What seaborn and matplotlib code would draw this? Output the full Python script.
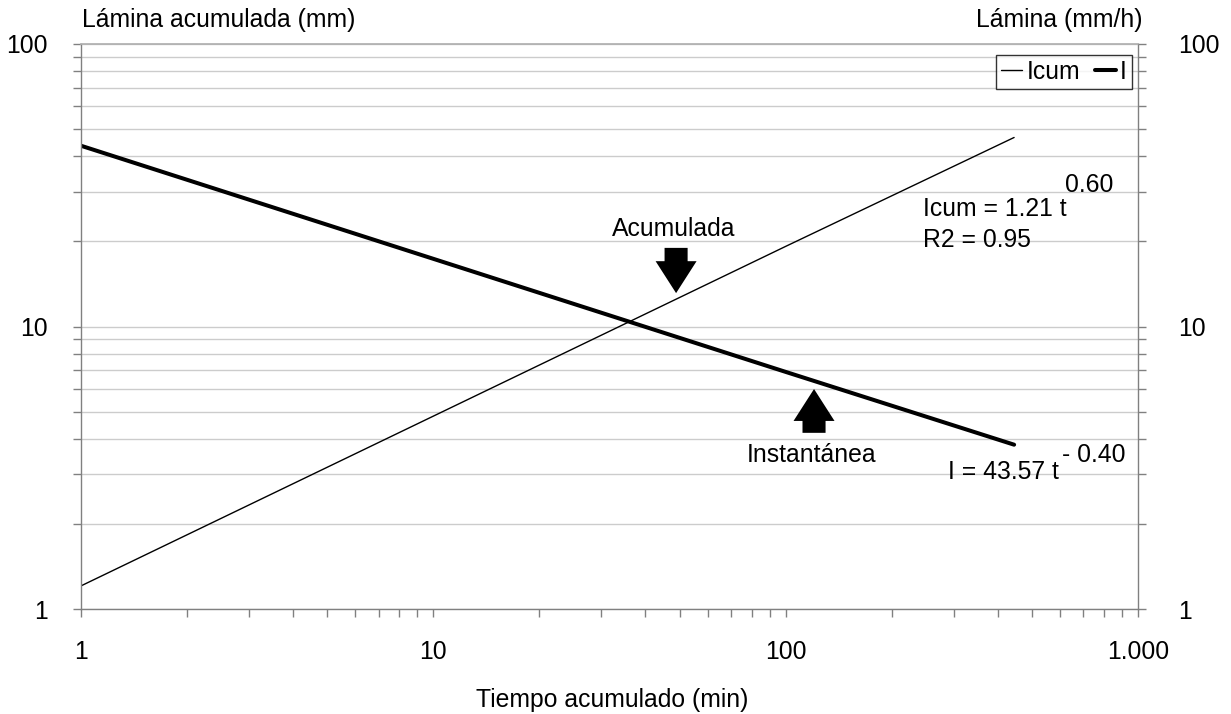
import matplotlib
matplotlib.use("Agg")
import matplotlib.pyplot as plt
from matplotlib import ticker
import seaborn as sns
import pandas as pd

# Data (log-log power fits)
t_min = [1, 10, 100, 445]
icum_mm = [1.21, 4.82, 19.2, 46.6]
i_mmh = [43.57, 17.35, 6.91, 3.82]

x_ticks = [1, 10, 100, 1000]
y_ticks = [1, 10, 100]

sns.set_theme(style="white")
plt.rcParams["font.family"] = ["Liberation Sans", "DejaVu Sans"]
plt.rcParams["font.size"] = 17.8
plt.rcParams["text.color"] = "black"
plt.rcParams["xtick.labelcolor"] = "black"
plt.rcParams["ytick.labelcolor"] = "black"

FS = 17.8
GRID = "#cccccc"
AXIS = "#808080"

df = pd.DataFrame({"t": t_min, "Icum": icum_mm, "I": i_mmh})

fig = plt.figure(figsize=(12.31, 7.14), dpi=100)
fig.subplots_adjust(left=81 / 1231, right=1138 / 1231,
                    bottom=1 - 609.3 / 714, top=1 - 43.7 / 714)
ax = fig.add_subplot(111)

sns.lineplot(data=df, x="t", y="Icum", ax=ax, color="black", lw=1.0, label="Icum")
sns.lineplot(data=df, x="t", y="I", ax=ax, color="black", lw=2.9, label="I")

ax.set_xscale("log")
ax.set_yscale("log")
ax.set_xlim(1, 1000)
ax.set_ylim(1, 100)
ax.set_xlabel("")
ax.set_ylabel("")

# Axis formatting
ax.xaxis.set_major_locator(ticker.FixedLocator(x_ticks))
ax.xaxis.set_major_formatter(
    ticker.FuncFormatter(lambda v, p: "{:,.0f}".format(v).replace(",", ".")))
ax.xaxis.set_minor_locator(ticker.LogLocator(base=10, subs=range(2, 10)))
ax.xaxis.set_minor_formatter(ticker.NullFormatter())
ax.yaxis.set_major_locator(ticker.FixedLocator(y_ticks))
ax.yaxis.set_major_formatter(ticker.FuncFormatter(lambda v, p: "%g" % v))
ax.yaxis.set_minor_locator(ticker.LogLocator(base=10, subs=range(2, 10)))
ax.yaxis.set_minor_formatter(ticker.NullFormatter())

ax.tick_params(axis="x", which="both", direction="out", length=5.8, width=1,
               color=AXIS, bottom=True, labelsize=FS, labelcolor="black", pad=16)
ax.tick_params(axis="y", which="both", direction="out", length=5.8, width=1,
               color=AXIS, left=True, labelsize=FS, labelcolor="black", pad=18)

ax.grid(False)
for y in y_ticks + [m * 10 ** k for k in range(2) for m in range(2, 10)]:
    ax.axhline(y, color=GRID, lw=1, zorder=0)

for side in ["left", "right", "bottom"]:
    ax.spines[side].set_color(AXIS)
    ax.spines[side].set_linewidth(1)
ax.spines["top"].set_color("#b0b0b0")

# Right axis
ax2 = ax.twinx()
ax2.set_yscale("log")
ax2.set_ylim(1, 100)
ax2.yaxis.set_major_locator(ticker.FixedLocator(y_ticks))
ax2.yaxis.set_major_formatter(ticker.FuncFormatter(lambda v, p: "%g" % v))
ax2.yaxis.set_minor_locator(ticker.LogLocator(base=10, subs=range(2, 10)))
ax2.yaxis.set_minor_formatter(ticker.NullFormatter())
ax2.tick_params(axis="y", which="both", direction="out", length=5.8, width=1,
                color=AXIS, right=True, labelsize=FS, labelcolor="black", pad=23)
for s in ax2.spines.values():
    s.set_visible(False)

# Legend
leg = ax.legend(loc="upper right", bbox_to_anchor=(0.9943, 0.980), ncol=2,
                borderaxespad=0, fontsize=FS, handlelength=0.85,
                handletextpad=0.17, columnspacing=0.6, borderpad=0.2,
                fancybox=False, frameon=True)
leg.get_frame().set_edgecolor("black")
leg.get_frame().set_linewidth(1)

# Equations
ax.text(0.797, 0.708, "Icum = 1.21 t", transform=ax.transAxes, fontsize=FS,
        ha="left", va="center")
ax.text(0.931, 0.750, "0.60", transform=ax.transAxes, fontsize=FS,
        ha="left", va="center")
ax.text(0.797, 0.653, "R2 = 0.95", transform=ax.transAxes, fontsize=FS,
        ha="left", va="center")
ax.text(0.820, 0.243, "I = 43.57 t", transform=ax.transAxes, fontsize=FS,
        ha="left", va="center")
ax.text(0.928, 0.273, "- 0.40", transform=ax.transAxes, fontsize=FS,
        ha="left", va="center")

# Arrow annotations
arrow = dict(arrowstyle="simple,head_length=2.3,head_width=2.95,tail_width=1.66",
             mutation_scale=10, fc="black", ec="none", shrinkA=0, shrinkB=0)
ax.annotate("", xy=(0.563, 0.559), xytext=(0.563, 0.639),
            xycoords="axes fraction", arrowprops=arrow)
ax.annotate("", xy=(0.6935, 0.3895), xytext=(0.6935, 0.312),
            xycoords="axes fraction", arrowprops=arrow)
ax.text(0.561, 0.673, "Acumulada", transform=ax.transAxes, fontsize=FS,
        ha="center", va="center")
ax.text(0.691, 0.273, "Instantánea", transform=ax.transAxes, fontsize=FS,
        ha="center", va="center")

# Axis titles
fig.text(82 / 1231, 1 - 20 / 714, "Lámina acumulada (mm)", fontsize=FS,
         ha="left", va="center")
fig.text(1142 / 1231, 1 - 20 / 714, "Lámina (mm/h)", fontsize=FS,
         ha="right", va="center")
fig.text(612 / 1231, 1 - 700 / 714, "Tiempo acumulado (min)", fontsize=FS,
         ha="center", va="center")

fig.savefig("out.png", dpi=100, facecolor="white")
